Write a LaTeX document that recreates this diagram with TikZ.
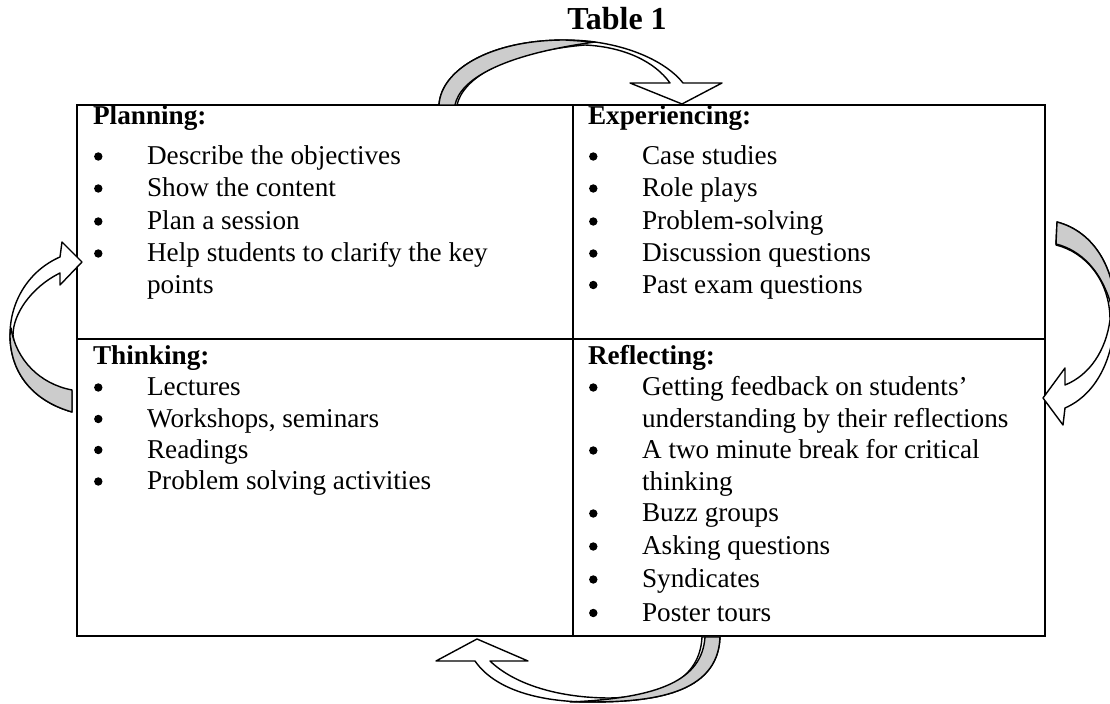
\documentclass[tikz,border=0pt]{standalone}
\usepackage{fontspec}
\setmainfont{Liberation Serif}
\begin{document}
\begin{tikzpicture}[x=0.5pt,y=-0.5pt,
  txt/.style={font=\fontsize{13.6}{16}\selectfont, inner sep=0pt, anchor=base west},
  hdr/.style={font=\fontsize{13.6}{16}\selectfont\bfseries, inner sep=0pt, anchor=base west},
  bul/.style={circle, fill=black, inner sep=0pt, minimum size=4.2pt},
  gridline/.style={line width=1pt},
  ribbon/.style={draw=black, line width=0.7pt, fill=white, line join=round},
  shade/.style={draw=black, line width=0.7pt, fill=black!20, line join=round}]
\useasboundingbox (0,0) rectangle (1110,704);
\begin{scope}
\clip (0,0) rectangle (1110,704);

% table
\coordinate (tl) at (77,105);
\coordinate (br) at (1045,636);
\draw[gridline] (tl) rectangle (br);
\draw[gridline] (573,105) -- (573,636);
\draw[gridline] (77,339) -- (1045,339);

% title
\node[font=\fontsize{16}{19}\selectfont\bfseries, inner sep=0pt, anchor=base west] (title) at (567,30) {Table 1};

% top arrow (Planning -> Experiencing)
\draw[ribbon] (439,105) .. controls (441,70) and (490,40) .. (565,40)
  .. controls (620,40) and (665,60) .. (683,83)
  -- (722,83) -- (682,104) -- (630,83) -- (670,83)
  .. controls (655,62) and (625,47) .. (585,45)
  .. controls (505,52) and (463,78) .. (457,105) -- cycle;
\draw[shade] (439,105) .. controls (441,70) and (490,40) .. (565,40)
  -- (595,42) .. controls (500,55) and (460,80) .. (455,105) -- cycle;

% right arrow (Experiencing -> Reflecting)
\draw[ribbon] (1057,222) .. controls (1095,232) and (1115,270) .. (1115,310)
  .. controls (1115,360) and (1095,395) .. (1065,408)
  -- (1063,425) -- (1043,398) -- (1065,368) -- (1065,385)
  .. controls (1090,375) and (1106,350) .. (1110,320)
  .. controls (1110,280) and (1085,252) .. (1056,245) -- cycle;
\draw[shade] (1057,222) .. controls (1095,232) and (1115,270) .. (1115,310)
  -- (1113,312) .. controls (1103,270) and (1080,250) .. (1056,244) -- cycle;

% bottom arrow (Reflecting -> Thinking)
\draw[ribbon] (720,637) .. controls (718,695) and (650,702) .. (590,702)
  .. controls (540,702) and (495,690) .. (475,661)
  -- (436,661) -- (477,639) -- (528,661) -- (490,661)
  .. controls (515,685) and (560,698) .. (610,698)
  .. controls (660,697) and (700,680) .. (702,637) -- cycle;
\draw[shade] (720,637) .. controls (718,695) and (650,702) .. (590,702)
  -- (570,702) .. controls (660,698) and (702,680) .. (705,637) -- cycle;

% left arrow (Thinking -> Planning)
\draw[ribbon] (72,412) .. controls (30,400) and (10,370) .. (10,335)
  .. controls (10,300) and (30,270) .. (60,257)
  -- (62,242) -- (82,262) -- (60,285) -- (60,273)
  .. controls (30,288) and (13,315) .. (13,335)
  .. controls (16,365) and (48,388) .. (72,391) -- cycle;
\draw[shade] (72,412) .. controls (30,400) and (10,370) .. (10,335)
  -- (11,328) .. controls (16,360) and (40,384) .. (72,390) -- cycle;
\end{scope}

% Planning
\node[hdr] (plan) at (92.7,124.5) {Planning:};
\foreach \y/\t [count=\i] in {165/Describe the objectives,197/Show the content,230/Plan a session,262/Help students to clarify the key}{
  \node[bul] (pb\i) at (98.3,\y-8.5) {};
  \node[txt] (pt\i) at (146.7,\y) {\t};
}
\node[txt] (pt5) at (146.7,293.5) {points};

% Experiencing
\node[hdr] (exp) at (587.7,124.5) {Experiencing:};
\foreach \y/\t [count=\i] in {165/Case studies,197/Role plays,230/Problem-solving,262/Discussion questions,293.5/Past exam questions}{
  \node[bul] (eb\i) at (593.3,\y-8.5) {};
  \node[txt] (et\i) at (641.7,\y) {\t};
}

% Thinking
\node[hdr] (thk) at (92.7,365) {Thinking:};
\foreach \y/\t [count=\i] in {396/Lectures,427.5/{Workshops, seminars},458.5/Readings,490/Problem solving activities}{
  \node[bul] (tb\i) at (98.3,\y-8.5) {};
  \node[txt] (tt\i) at (146.7,\y) {\t};
}

% Reflecting
\node[hdr] (ref) at (587.7,365) {Reflecting:};
\foreach \y/\t [count=\i] in {396/Getting feedback on students’,459/A two minute break for critical,522/Buzz groups,555/Asking questions,588/Syndicates,621.5/Poster tours}{
  \node[bul] (rb\i) at (593.3,\y-8.5) {};
  \node[txt] (rt\i) at (641.7,\y) {\t};
}
\node[txt] (rc1) at (641.7,427.5) {understanding by their reflections};
\node[txt] (rc2) at (641.7,490.5) {thinking};
\end{tikzpicture}
\end{document}
